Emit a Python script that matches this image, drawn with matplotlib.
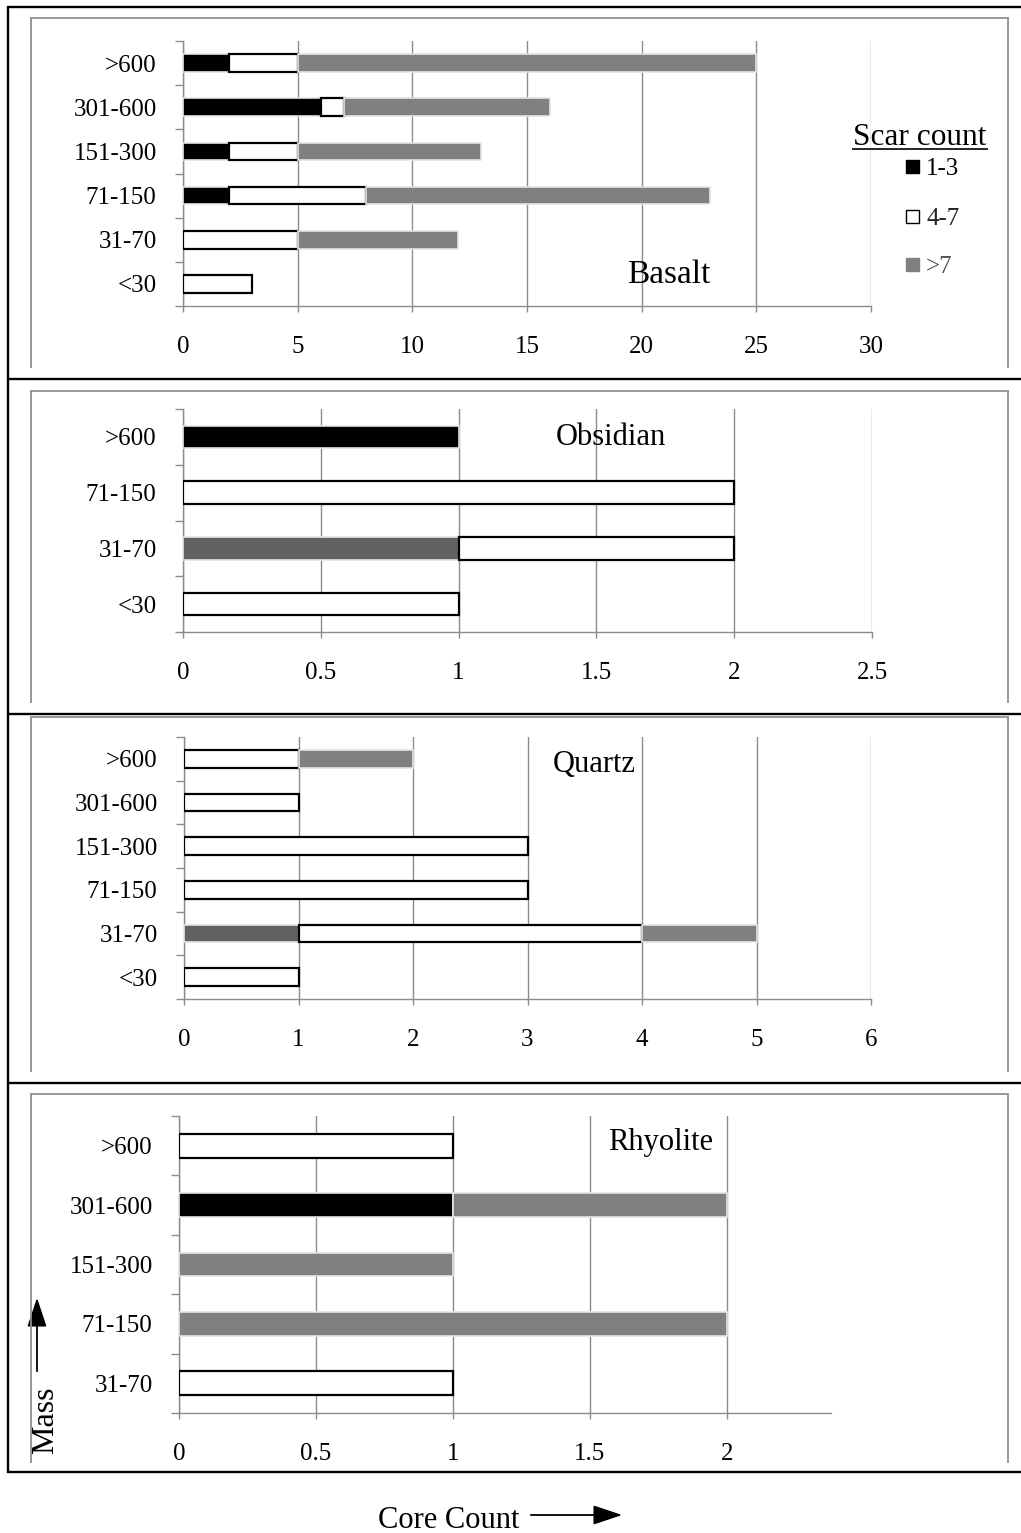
import matplotlib
matplotlib.use('Agg')
import matplotlib.pyplot as plt
from matplotlib.lines import Line2D
from matplotlib.patches import Rectangle, FancyArrowPatch

plt.rcParams['font.family'] = ['Liberation Serif', 'DejaVu Serif']

# core counts per mass class, stacked by scar count
basalt_cats = ['>600', '301-600', '151-300', '71-150', '31-70', '<30']
basalt_dark = [0, 0, 0, 0, 0, 0]
basalt_s13 = [2, 6, 2, 2, 0, 0]
basalt_s47 = [3, 1, 3, 6, 5, 3]
basalt_gt7 = [20, 9, 8, 15, 7, 0]

obsidian_cats = ['>600', '71-150', '31-70', '<30']
obsidian_dark = [0, 0, 1, 0]
obsidian_s13 = [1, 0, 0, 0]
obsidian_s47 = [0, 2, 1, 1]
obsidian_gt7 = [0, 0, 0, 0]

quartz_cats = ['>600', '301-600', '151-300', '71-150', '31-70', '<30']
quartz_dark = [0, 0, 0, 0, 1, 0]
quartz_s13 = [0, 0, 0, 0, 0, 0]
quartz_s47 = [1, 1, 3, 3, 3, 1]
quartz_gt7 = [1, 0, 0, 0, 1, 0]

rhyolite_cats = ['>600', '301-600', '151-300', '71-150', '31-70']
rhyolite_dark = [0, 0, 0, 0, 0]
rhyolite_s13 = [0, 1, 0, 0, 0]
rhyolite_s47 = [1, 0, 0, 0, 1]
rhyolite_gt7 = [0, 1, 1, 2, 0]

basalt_ticks = [0, 5, 10, 15, 20, 25, 30]
obsidian_ticks = [0, 0.5, 1, 1.5, 2, 2.5]
quartz_ticks = [0, 1, 2, 3, 4, 5, 6]
rhyolite_ticks = [0, 0.5, 1, 1.5, 2]

W, H = 1021, 1533
fig = plt.figure(figsize=(W / 100, H / 100), dpi=100)

GRID = '#8c8c8c'
FRAME = '#909090'


def fx(x):
    return x / W


def fy(y):
    return 1 - y / H


def hline(y, x0, x1, color, lw):
    fig.add_artist(Line2D([fx(x0), fx(x1)], [fy(y), fy(y)], color=color, lw=lw,
                          transform=fig.transFigure, solid_capstyle='butt'))


def vline(x, y0, y1, color, lw):
    fig.add_artist(Line2D([fx(x), fx(x)], [fy(y0), fy(y1)], color=color, lw=lw,
                          transform=fig.transFigure, solid_capstyle='butt'))


styles = [
    dict(color='#616161', edgecolor='#e4e4e4', linewidth=1.2),   # dark
    dict(color='black', edgecolor='#e4e4e4', linewidth=1.2),     # 1-3
    dict(color='white', edgecolor='black', linewidth=1.6),       # 4-7
    dict(color='#808080', edgecolor='#e4e4e4', linewidth=1.2),   # >7
]


def panel(box, cats, series, ticks, xmax, title, title_xy, title_size):
    x0, x1, y0, y1 = box
    ax = fig.add_axes([fx(x0), fy(y1), fx(x1) - fx(x0), (y1 - y0) / H])
    n = len(cats)
    pos = [n - 1 - i for i in range(n)]
    left = [0] * n
    for vals, st in zip(series, styles):
        idx = [i for i in range(n) if vals[i] > 0]
        if idx:
            ax.barh([pos[i] for i in idx], [vals[i] for i in idx],
                    left=[left[i] for i in idx], height=0.4, zorder=3, **st)
        left = [left[i] + vals[i] for i in range(n)]
    ax.set_xlim(0, xmax)
    ax.set_ylim(-0.5, n - 0.5)
    ax.set_yticks(pos)
    ax.set_yticklabels(cats, fontsize=18)
    ax.set_yticks([k - 0.5 for k in range(n + 1)], minor=True)
    ax.set_xticks(ticks)
    ax.set_xticklabels([f'{t:g}' for t in ticks], fontsize=18)
    ax.tick_params(axis='y', which='major', length=0, pad=19)
    ax.tick_params(axis='y', which='minor', length=6, color=GRID, width=1)
    ax.tick_params(axis='x', length=4.5, color=GRID, width=1, pad=17)
    ax.grid(axis='x', color=GRID, lw=1)
    ax.set_axisbelow(True)
    for s in ['top', 'right']:
        ax.spines[s].set_visible(False)
    for s in ['left', 'bottom']:
        ax.spines[s].set_color(GRID)
        ax.spines[s].set_linewidth(1)
    fig.text(fx(title_xy[0]), fy(title_xy[1]), title, fontsize=title_size,
             ha='center', va='baseline')
    return ax


panel((183, 871, 41, 306), basalt_cats,
      [basalt_dark, basalt_s13, basalt_s47, basalt_gt7],
      basalt_ticks, 30, 'Basalt', (669, 283), 24)
panel((183, 872, 409, 632), obsidian_cats,
      [obsidian_dark, obsidian_s13, obsidian_s47, obsidian_gt7],
      obsidian_ticks, 2.5, 'Obsidian', (611, 445), 22)
panel((184, 871, 737, 999), quartz_cats,
      [quartz_dark, quartz_s13, quartz_s47, quartz_gt7],
      quartz_ticks, 6, 'Quartz', (594, 772), 22)
panel((179, 831, 1116, 1413), rhyolite_cats,
      [rhyolite_dark, rhyolite_s13, rhyolite_s47, rhyolite_gt7],
      rhyolite_ticks, 2.38, 'Rhyolite', (661, 1150), 22)

# outer black frame and separators
for y in [7, 379, 714, 1083, 1472]:
    hline(y, 7, W, 'black', 1.7)
vline(8, 6, 1473, 'black', 1.7)

# inner grey boxes around each chart
for top, bottom in [(18, 368), (391, 703), (717, 1072), (1094, 1463)]:
    hline(top, 30, 1009, FRAME, 1.3)
    vline(31, top, bottom, FRAME, 1.3)
    vline(1008, top, bottom, FRAME, 1.3)

# legend
fig.text(fx(920), fy(145), 'Scar count', fontsize=22.5, ha='center', va='baseline')
hline(149, 852, 988, 'black', 1.2)
legend_items = [('1-3', 'black', 'black', 175, 'black'),
                ('4-7', 'white', 'black', 225, '#222222'),
                ('>7', '#808080', '#808080', 273, '#555555')]
for label, fc, ec, base, tc in legend_items:
    fig.add_artist(Rectangle((fx(906), fy(base - 2)), 13 / W, 13 / H, facecolor=fc,
                             edgecolor=ec, lw=1, transform=fig.transFigure))
    fig.text(fx(926), fy(base), label, fontsize=18, ha='left', va='baseline', color=tc)

# axis captions
fig.text(fx(46), fy(1420), 'Mass', fontsize=23, rotation=90, ha='center', va='center')
fig.add_artist(FancyArrowPatch((fx(37), fy(1374)), (fx(37), fy(1295)),
                               transform=fig.transFigure, color='black', lw=1.3,
                               arrowstyle='-|>,head_length=0.9,head_width=0.3',
                               mutation_scale=20))
fig.text(fx(449), fy(1528), 'Core Count', fontsize=22, ha='center', va='baseline')
fig.add_artist(FancyArrowPatch((fx(528), fy(1515)), (fx(625), fy(1515)),
                               transform=fig.transFigure, color='black', lw=1.3,
                               arrowstyle='-|>,head_length=0.9,head_width=0.3',
                               mutation_scale=20))

fig.savefig('out.png', dpi=100, facecolor='white')
